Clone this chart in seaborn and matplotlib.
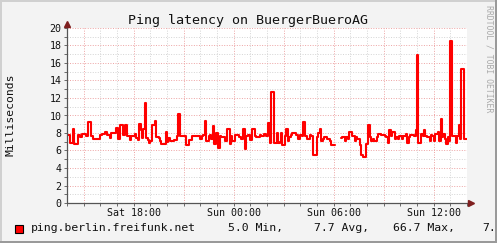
import numpy as np
import pandas as pd
import matplotlib
matplotlib.use("Agg")
import matplotlib.pyplot as plt
import matplotlib.dates as mdates
from matplotlib.patches import Rectangle
from matplotlib.ticker import FuncFormatter, MultipleLocator
from datetime import timedelta
import seaborn as sns

# ---------------- data ----------------
start_time = "2016-01-16 14:00"   # a Saturday
step_minutes = 5
n_slots = 288

# 5-minute slot (since start) where the reading changes, and the reading from there on
change_slot = [
    0, 2, 4, 5, 8, 9, 11, 14, 15, 17, 19, 24, 25, 27, 29, 31, 32, 35, 37, 38,
    40, 42, 43, 45, 46, 49, 50, 51, 52, 53, 54, 55, 56, 57, 58, 59, 60, 61, 63, 64,
    66, 67, 68, 71, 72, 73, 74, 77, 79, 80, 81, 83, 85, 86, 88, 90, 96, 97, 98, 99,
    100, 102, 103, 104, 105, 106, 107, 109, 110, 111, 114, 115, 117, 118, 119, 121, 124, 125, 127, 128,
    129, 130, 132, 133, 135, 136, 139, 140, 142, 143, 145, 146, 147, 149, 151, 152, 153, 154, 155, 157,
    158, 159, 160, 161, 162, 165, 166, 168, 169, 170, 171, 173, 175, 176, 177, 180, 181, 182, 183, 184,
    185, 187, 189, 190, 197, 198, 200, 201, 202, 203, 205, 207, 208, 209, 211, 212, 213, 215, 217, 218,
    219, 220, 221, 223, 224, 226, 229, 230, 231, 232, 233, 234, 236, 237, 238, 239, 241, 242, 244, 245,
    246, 247, 250, 251, 252, 253, 255, 256, 257, 258, 259, 261, 262, 263, 264, 265, 267, 268, 269, 270,
    271, 272, 273, 274, 275, 276, 277, 280, 281, 282, 283, 284, 286,
]
latency_ms = [
    7.8, 6.9, 8.5, 6.7, 7.8, 7.5, 7.9, 7.6, 9.2, 7.7, 7.3, 7.8, 7.9, 8.1, 7.8, 7.4, 8.0, 8.6, 7.3, 8.9,
    7.8, 8.9, 7.7, 7.2, 7.7, 7.9, 7.4, 7.2, 9.0, 8.3, 7.4, 8.4, 11.4, 7.4, 7.2, 6.8, 7.1, 8.9, 9.4, 7.5,
    7.4, 7.1, 6.7, 8.1, 7.0, 7.4, 7.1, 7.2, 7.7, 10.2, 7.7, 7.6, 7.7, 6.6, 7.2, 7.6, 7.3, 7.7, 7.8, 9.4,
    7.1, 7.7, 7.8, 7.3, 8.8, 6.7, 8.0, 6.3, 7.7, 7.5, 7.1, 8.5, 6.7, 7.7, 7.1, 7.8, 7.5, 7.3, 8.5, 6.2,
    7.7, 7.8, 7.2, 8.4, 7.7, 7.5, 7.8, 7.7, 7.9, 7.6, 9.1, 6.9, 12.7, 6.9, 8.0, 6.8, 7.0, 8.0, 6.6, 7.6,
    8.4, 7.1, 7.5, 7.8, 8.0, 7.8, 7.3, 7.8, 7.6, 9.3, 7.6, 7.3, 7.8, 7.6, 5.5, 7.5, 8.0, 8.4, 7.1, 7.3,
    7.5, 7.3, 7.1, 6.6, 7.4, 7.5, 7.1, 7.5, 7.3, 8.1, 7.7, 7.1, 7.5, 7.3, 6.6, 5.5, 5.2, 6.7, 8.9, 7.5,
    7.1, 7.3, 7.1, 7.5, 7.9, 7.8, 7.7, 7.5, 6.9, 8.3, 7.7, 8.1, 7.3, 7.5, 7.3, 7.7, 7.3, 7.7, 7.9, 6.9,
    7.5, 7.8, 7.6, 8.3, 16.9, 6.9, 7.9, 7.6, 8.3, 7.6, 7.5, 7.1, 7.8, 7.7, 7.1, 7.9, 8.1, 7.1, 9.6, 7.5,
    7.9, 7.3, 6.7, 7.5, 7.1, 18.5, 7.7, 6.9, 7.6, 8.9, 7.3, 15.3, 7.3,
]
# slots with no data (unknown)
gap_first_slot = 193
gap_last_slot = 196

title = "Ping latency on BuergerBueroAG"
y_label = "Milliseconds"
series_name = "ping.berlin.freifunk.net"
stat_texts = ["5.0 Min,", "7.7 Avg,", "66.7 Max,", "7."]
y_major = 2
y_minor = 1
y_max = 20
watermark = "RRDTOOL / TOBI OETIKER"

# ---------------- build table ----------------
times = pd.date_range(start_time, periods=n_slots, freq=f"{step_minutes}min")
dense = pd.Series(np.nan, index=range(n_slots))
dense.loc[change_slot] = latency_ms
dense = dense.ffill()
dense.loc[gap_first_slot:gap_last_slot] = np.nan
df = pd.DataFrame({"time": times, "latency": dense.values})
df["segment"] = df["latency"].isna().cumsum()
df = df.dropna()
ends = df.groupby("segment").tail(1).copy()
ends["time"] = ends["time"] + pd.Timedelta(minutes=step_minutes)
df = pd.concat([df, ends]).sort_values(["segment", "time"]).reset_index(drop=True)

# ---------------- style ----------------
W, H = 497, 243
BG = "#F3F3F3"
sns.set_theme(style="white")
plt.rcParams["font.family"] = ["DejaVu Sans Mono"]

fig = plt.figure(figsize=(W / 100, H / 100), dpi=100, facecolor=BG)
ax = fig.add_axes([67 / W, 40 / H, 400 / W, 175 / H])
ax.set_facecolor("white")

sns.lineplot(data=df, x="time", y="latency", units="segment", estimator=None,
             color="#FF0000", linewidth=1.5, drawstyle="steps-post",
             legend=False, ax=ax)

t0 = times[0]
t1 = times[0] + pd.Timedelta(minutes=step_minutes * n_slots)
ax.set_xlim(t0, t1)
ax.set_ylim(0, y_max)

ax.yaxis.set_major_locator(MultipleLocator(y_major))
ax.yaxis.set_minor_locator(MultipleLocator(y_minor))
ax.xaxis.set_major_locator(mdates.HourLocator(byhour=range(0, 24, 3)))
ax.xaxis.set_minor_locator(mdates.HourLocator())


def fmt_time(x, pos):
    d = mdates.num2date(x) + timedelta(seconds=30)
    return d.strftime("%a %H:%M") if d.hour % 6 == 0 else ""


ax.xaxis.set_major_formatter(FuncFormatter(fmt_time))

ax.set_axisbelow(True)
ax.grid(which="minor", color="#D4D4D4", linestyle=(0, (1, 1.6)), linewidth=0.7)
ax.grid(which="major", color="#EDA3A3", linestyle=(0, (1, 1.6)), linewidth=0.7)

for s in ax.spines.values():
    s.set_visible(False)

ax.tick_params(which="both", direction="out", length=2, width=0.6, color="#555555",
               labelsize=7.2, labelcolor="#111111")
ax.tick_params(axis="y", which="both", pad=1.8, left=True)
ax.tick_params(axis="x", which="both", pad=1.6, bottom=True)
ax.set_xlabel("")
ax.set_ylabel("")

# axis lines with arrows
axis_col = "#555555"
arrow_col = "#7F1F1F"
ax.plot([0, 0], [0, 1.02], transform=ax.transAxes, clip_on=False, color=axis_col, lw=0.9)
ax.plot([0, 1.005], [0, 0], transform=ax.transAxes, clip_on=False, color=axis_col, lw=0.9)
ax.plot([0], [1.025], marker="^", ms=4.2, transform=ax.transAxes, clip_on=False,
        color=arrow_col, mec=arrow_col)
ax.plot([1.009], [0], marker=">", ms=4.2, transform=ax.transAxes, clip_on=False,
        color=arrow_col, mec=arrow_col)

# texts
fig.text(248.5 / W, 1 - 24 / H, title, ha="center", va="baseline", fontsize=9.6, color="#111111")
fig.text(11 / W, 1 - 114.5 / H, y_label, rotation=90, ha="center", va="center",
         fontsize=8.2, color="#111111")
fig.text(489.5 / W, 1 - 59 / H, watermark, rotation=270, ha="center", va="center",
         fontsize=5.9, color="#AAAAAA")

# legend
fig.add_artist(Rectangle((15 / W, 1 - 232.5 / H), 8 / W, 8 / H, transform=fig.transFigure,
                         facecolor="#FF0000", edgecolor="black", linewidth=0.8))
leg_y = 1 - 228 / H
fig.text(31 / W, leg_y, series_name, ha="left", va="center", fontsize=8.25, color="#111111")
for xpos, txt in zip([228, 314, 393, 482], stat_texts):
    fig.text(xpos / W, leg_y, txt, ha="left", va="center", fontsize=8.25, color="#111111")

# frame shading
fig.add_artist(Rectangle((0, 0), 2 / W, 1, transform=fig.transFigure, color="#D0D0D0", lw=0))
fig.add_artist(Rectangle((0, 1 - 2 / H), 1, 2 / H, transform=fig.transFigure, color="#D0D0D0", lw=0))
fig.add_artist(Rectangle((1 - 2 / W, 0), 2 / W, 1, transform=fig.transFigure, color="#9A9A9A", lw=0))
fig.add_artist(Rectangle((0, 0), 1, 2 / H, transform=fig.transFigure, color="#9A9A9A", lw=0))

fig.savefig("out.png", dpi=100, facecolor=BG)
